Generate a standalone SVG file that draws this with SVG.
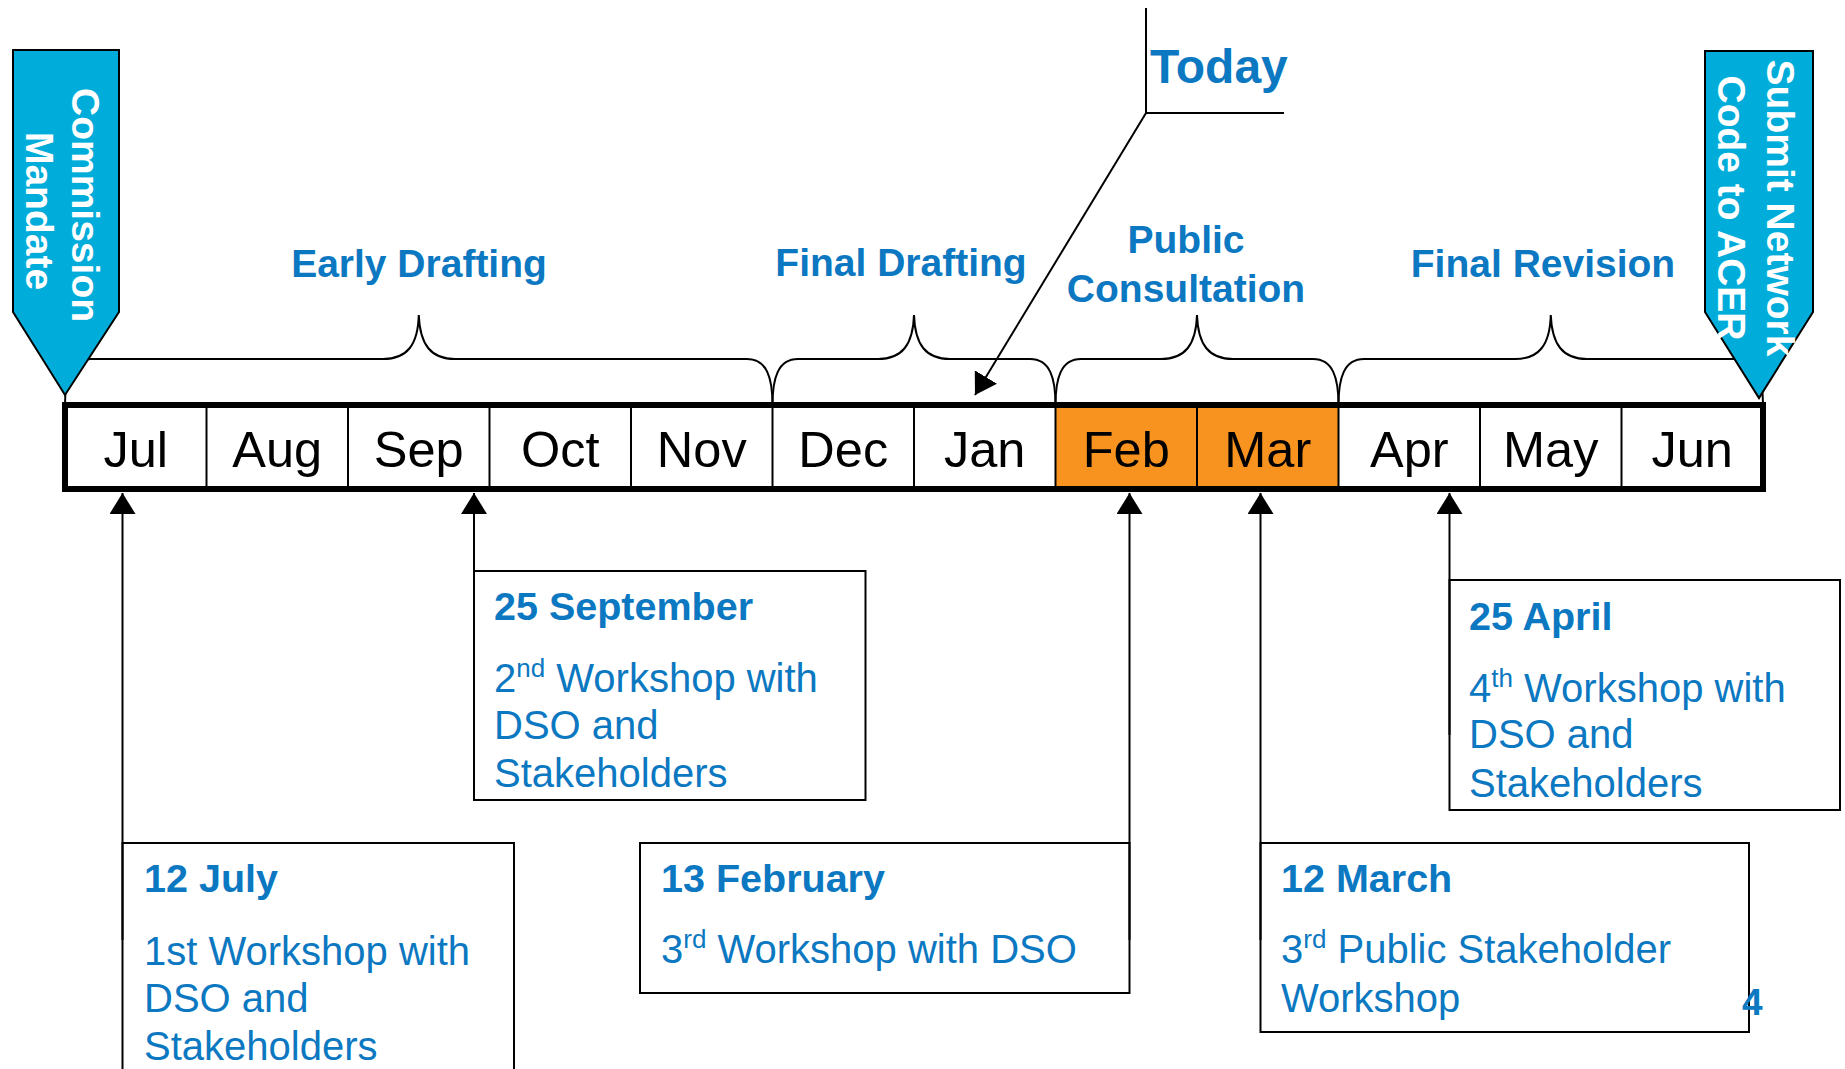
<svg xmlns="http://www.w3.org/2000/svg" width="1845" height="1069" viewBox="0 0 1845 1069">
<defs>
<style>
.mon{font-family:"Liberation Sans",Arial,sans-serif;font-size:50.5px;fill:#000;text-anchor:middle}
.phase{font-family:"Liberation Sans",Arial,sans-serif;font-size:39px;font-weight:bold;fill:#0B78C1;text-anchor:middle}
.hd{font-family:"Liberation Sans",Arial,sans-serif;font-size:39.5px;font-weight:bold;fill:#0B78C1}
.bd{font-family:"Liberation Sans",Arial,sans-serif;font-size:40px;fill:#0B78C1}
.wt{font-family:"Liberation Sans",Arial,sans-serif;font-size:39px;font-weight:bold;fill:#fff;text-anchor:middle}
.box{fill:#fff;stroke:#000;stroke-width:2}
.brace{fill:none;stroke:#000;stroke-width:2}
.con{fill:none;stroke:#000;stroke-width:2}
.flag{fill:#00ACD9;stroke:#000;stroke-width:2;stroke-linejoin:miter}
.div{stroke:#000;stroke-width:2}
</style>
<marker id="ah" markerUnits="userSpaceOnUse" markerWidth="21" markerHeight="26" refX="21" refY="13" orient="auto" viewBox="0 0 21 26">
<path d="M0,0 L21,13 L0,26 z" fill="#000"/>
</marker>
</defs>
<rect width="1845" height="1069" fill="#fff"/>

<g id="timeline">
<rect x="1055.5" y="405" width="283" height="84" fill="#F7931E"/>
<line class="div" x1="206.5" y1="405" x2="206.5" y2="489"/>
<line class="div" x1="348" y1="405" x2="348" y2="489"/>
<line class="div" x1="489.5" y1="405" x2="489.5" y2="489"/>
<line class="div" x1="631" y1="405" x2="631" y2="489"/>
<line class="div" x1="772.5" y1="405" x2="772.5" y2="489"/>
<line class="div" x1="914" y1="405" x2="914" y2="489"/>
<line class="div" x1="1055.5" y1="405" x2="1055.5" y2="489"/>
<line class="div" x1="1197" y1="405" x2="1197" y2="489"/>
<line class="div" x1="1338.5" y1="405" x2="1338.5" y2="489"/>
<line class="div" x1="1480" y1="405" x2="1480" y2="489"/>
<line class="div" x1="1621.5" y1="405" x2="1621.5" y2="489"/>
<rect x="65" y="405" width="1698" height="84" fill="none" stroke="#000" stroke-width="6"/>
<text class="mon" x="135.75" y="467">Jul</text>
<text class="mon" x="277.25" y="467">Aug</text>
<text class="mon" x="418.75" y="467">Sep</text>
<text class="mon" x="560.25" y="467">Oct</text>
<text class="mon" x="701.75" y="467">Nov</text>
<text class="mon" x="843.25" y="467">Dec</text>
<text class="mon" x="984.75" y="467">Jan</text>
<text class="mon" x="1126.25" y="467">Feb</text>
<text class="mon" x="1267.75" y="467">Mar</text>
<text class="mon" x="1409.25" y="467">Apr</text>
<text class="mon" x="1550.75" y="467">May</text>
<text class="mon" x="1692.25" y="467">Jun</text>
</g>

<g id="phase-early">
<path class="brace" d="M65 405 C65 378 71 359 91 359 L383 359 C407 359 418 345 418.75 315 C420 345 431 359 455 359 L747 359 C767 359 772.5 378 772.5 405"/>
<text class="phase" x="419" y="277">Early Drafting</text>
</g>
<g id="phase-final-drafting">
<path class="brace" d="M772.5 405 C772.5 378 778 359 798 359 L878 359 C902 359 913 345 914 315 C915 345 926 359 950 359 L1030 359 C1050 359 1055.5 378 1055.5 405"/>
<text class="phase" x="901" y="276">Final Drafting</text>
</g>
<g id="phase-public">
<path class="brace" d="M1055.5 405 C1055.5 378 1061 359 1081 359 L1161 359 C1185 359 1196 345 1197 315 C1198 345 1209 359 1233 359 L1313 359 C1333 359 1338.5 378 1338.5 405"/>
<text class="phase" x="1186" y="253">Public</text>
<text class="phase" x="1186" y="302">Consultation</text>
</g>
<g id="phase-final-revision">
<path class="brace" d="M1338.5 405 C1338.5 378 1344 359 1364 359 L1515 359 C1539 359 1550 345 1550.75 315 C1552 345 1563 359 1587 359 L1737 359 C1757 359 1763 378 1763 405"/>
<text class="phase" x="1543" y="277">Final Revision</text>
</g>

<g id="commission-mandate">
<path class="flag" d="M13 50 L119 50 L119 312 L65 395 L13 312 Z"/>
<text class="wt" transform="translate(72,205) rotate(90)">Commission</text>
<text class="wt" transform="translate(26,211) rotate(90)">Mandate</text>
</g>
<g id="submit-acer">
<path class="flag" d="M1705 51 L1813 51 L1813 312 L1759 398 L1705 312 Z"/>
<text class="wt" transform="translate(1767,208) rotate(90)">Submit Network</text>
<text class="wt" transform="translate(1718,208) rotate(90)">Code to ACER</text>
</g>

<g id="today">
<text class="hd" x="1150" y="83" style="font-size:48px">Today</text>
</g>

<g id="ev-jul">
<rect class="box" x="122.5" y="843" width="391.5" height="240"/>
<text class="hd" x="144" y="892">12 July</text>
<text class="bd" x="144" y="965">1st Workshop with</text>
<text class="bd" x="144" y="1012">DSO and</text>
<text class="bd" x="144" y="1060">Stakeholders</text>
</g>
<g id="ev-sep">
<rect class="box" x="474" y="571" width="391.5" height="229"/>
<text class="hd" x="494" y="620">25 September</text>
<text class="bd" x="494" y="692">2<tspan font-size="26" dy="-15">nd</tspan><tspan dy="15"> Workshop with</tspan></text>
<text class="bd" x="494" y="739">DSO and</text>
<text class="bd" x="494" y="787">Stakeholders</text>
</g>
<g id="ev-feb">
<rect class="box" x="640" y="843" width="489.5" height="150"/>
<text class="hd" x="661" y="892">13 February</text>
<text class="bd" x="661" y="963">3<tspan font-size="26" dy="-15">rd</tspan><tspan dy="15"> Workshop with DSO</tspan></text>
</g>
<g id="ev-mar">
<rect class="box" x="1260.5" y="843" width="488.5" height="189"/>
<text class="hd" x="1281" y="892">12 March</text>
<text class="bd" x="1281" y="963">3<tspan font-size="26" dy="-15">rd</tspan><tspan dy="15"> Public Stakeholder</tspan></text>
<text class="bd" x="1281" y="1012">Workshop</text>
</g>
<g id="ev-apr">
<rect class="box" x="1449.5" y="580" width="390.5" height="230"/>
<text class="hd" x="1469" y="630">25 April</text>
<text class="bd" x="1469" y="702">4<tspan font-size="26" dy="-15">th</tspan><tspan dy="15"> Workshop with</tspan></text>
<text class="bd" x="1469" y="748">DSO and</text>
<text class="bd" x="1469" y="797">Stakeholders</text>
</g>
<g id="page-number">
<text class="hd" x="1742" y="1015" style="font-size:37px">4</text>
</g>

<g id="connectors">
<line class="con" x1="122.5" y1="940" x2="122.5" y2="493" marker-end="url(#ah)"/>
<line class="con" x1="474" y1="700" x2="474" y2="493" marker-end="url(#ah)"/>
<line class="con" x1="1129.5" y1="940" x2="1129.5" y2="493" marker-end="url(#ah)"/>
<line class="con" x1="1260.5" y1="940" x2="1260.5" y2="493" marker-end="url(#ah)"/>
<line class="con" x1="1449.5" y1="735" x2="1449.5" y2="493" marker-end="url(#ah)"/>
<polyline class="con" points="1146,8 1146,113 1284,113"/>
<line class="con" x1="1146" y1="113" x2="975" y2="395" marker-end="url(#ah)"/>
</g>
</svg>
